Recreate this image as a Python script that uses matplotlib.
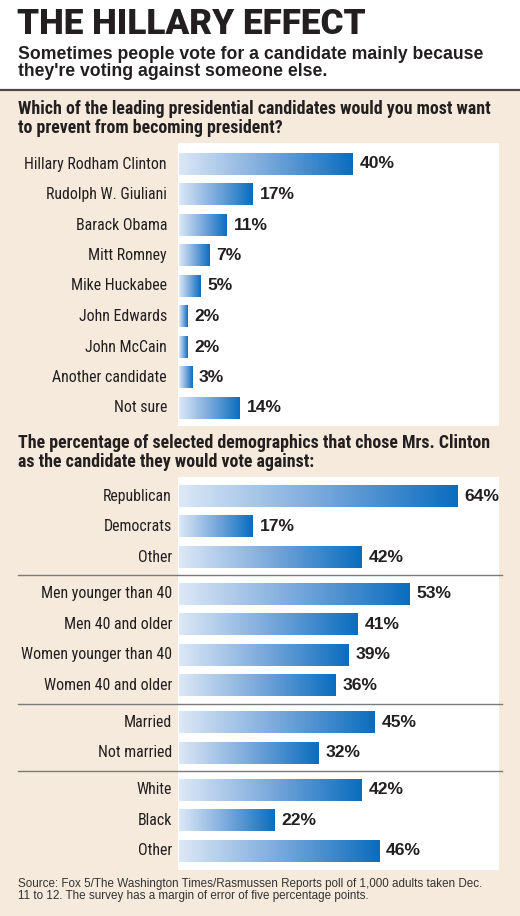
import matplotlib
matplotlib.use('Agg')
import matplotlib.pyplot as plt
import numpy as np
from matplotlib.colors import LinearSegmentedColormap
from matplotlib.transforms import blended_transform_factory
from matplotlib.patches import Rectangle
from matplotlib.lines import Line2D

# data
candidates = ['Hillary Rodham Clinton', 'Rudolph W. Giuliani', 'Barack Obama',
              'Mitt Romney', 'Mike Huckabee', 'John Edwards', 'John McCain',
              'Another candidate', 'Not sure']
candidate_pct = [40, 17, 11, 7, 5, 2, 2, 3, 14]

party = ['Republican', 'Democrats', 'Other']
party_pct = [64, 17, 42]
age_sex = ['Men younger than 40', 'Men 40 and older', 'Women younger than 40', 'Women 40 and older']
age_sex_pct = [53, 41, 39, 36]
marital = ['Married', 'Not married']
marital_pct = [45, 32]
race = ['White', 'Black', 'Other']
race_pct = [42, 22, 46]

title = 'THE HILLARY EFFECT'
subtitle = ("Sometimes people vote for a candidate mainly because\n"
            "they're voting against someone else.")
question1 = ("Which of the leading presidential candidates would you most want\n"
             "to prevent from becoming president?")
question2 = ("The percentage of selected demographics that chose Mrs. Clinton\n"
             "as the candidate they would vote against:")
source = ("Source: Fox 5/The Washington Times/Rasmussen Reports poll of 1,000 adults taken Dec.\n"
          "11 to 12. The survey has a margin of error of five percentage points.")

W, H = 520, 916
BEIGE = '#f5eadb'
TEXT = '#231f20'
blues = LinearSegmentedColormap.from_list('bar', ['#dce8f6', '#7aa9dc', '#0a6dbf'])
grad = np.linspace(0, 1, 256).reshape(1, -1)

fig = plt.figure(figsize=(W / 100, H / 100), dpi=100, facecolor=BEIGE)

# white header and rule
fig.patches.append(Rectangle((0, 1 - 89 / H), 1, 89 / H, transform=fig.transFigure,
                             facecolor='white', edgecolor='none', zorder=0))
fig.add_artist(Line2D([0, 1], [1 - 89.5 / H] * 2, transform=fig.transFigure,
                      color='#4a4a4a', lw=1.6))

fig.text(17 / W, 1 - 34 / H, title, fontfamily='Roboto', fontweight=900,
         fontsize=25.3, color=TEXT, va='baseline')
fig.text(18 / W, 1 - 76 / H, subtitle, fontfamily='Liberation Sans', fontweight='bold',
         fontsize=12.7, color=TEXT, va='baseline', linespacing=1.02)
fig.text(18 / W, 1 - 133 / H, question1, fontfamily='Roboto Condensed', fontweight='bold',
         fontsize=12.9, color=TEXT, va='baseline', linespacing=1.05)
fig.text(18 / W, 1 - 467 / H, question2, fontfamily='Roboto Condensed', fontweight='bold',
         fontsize=12.9, color=TEXT, va='baseline', linespacing=1.05)
fig.text(18 / W, 1 - 899 / H, source, fontfamily='Liberation Sans', fontsize=8.4,
         color='#333333', va='baseline', linespacing=1.05)

PX = 4.35  # pixels per percentage point
X0 = 179   # pixel where bars start
L, R = 178, 499


def panel(top, bottom, row0, pitch):
    ax = fig.add_axes([L / W, 1 - bottom / H, (R - L) / W, (bottom - top) / H])
    ax.set_facecolor('white')
    ax.set_xlim((L - X0) / PX, (R - X0) / PX)
    ax.set_ylim((bottom - row0) / pitch, (top - row0) / pitch)
    for s in ax.spines.values():
        s.set_visible(False)
    ax.set_xticks([])
    ax.set_yticks([])
    return ax


def draw_bars(ax, labels, values, positions, label_px):
    tr = blended_transform_factory(ax.transAxes, ax.transData)
    lx = (label_px - L) / (R - L)
    h = 0.71
    for lab, v, y in zip(labels, values, positions):
        ax.imshow(grad, cmap=blues, aspect='auto', interpolation='bilinear',
                  extent=[0, v, y + h / 2, y - h / 2], zorder=2)
        ax.text(lx, y, lab, transform=tr, ha='right', va='center', clip_on=False,
                fontfamily='Roboto Condensed', fontsize=11.4, color=TEXT)
        ax.annotate(f'{v}%', (v, y), xytext=(5.0, 0), textcoords='offset points',
                    ha='left', va='center', fontfamily='Liberation Sans',
                    fontweight='bold', fontsize=12.6, color=TEXT)
    ax.set_xlim((L - X0) / PX, (R - X0) / PX)


# panel 1
ax1 = panel(143, 426, 164, 30.5)
draw_bars(ax1, candidates, candidate_pct, np.arange(len(candidates)), 167)

# panel 2 with grouped rows
groups = [(party, party_pct), (age_sex, age_sex_pct), (marital, marital_pct), (race, race_pct)]
gap = 0.21
ax2 = panel(477, 870, 496, 30.5)
pos = 0
ends = []
for gi, (labs, vals) in enumerate(groups):
    ys = pos + np.arange(len(labs)) + gi * gap
    draw_bars(ax2, labs, vals, ys, 172)
    pos += len(labs)
    ends.append(ys[-1])

tr2 = blended_transform_factory(ax2.transAxes, ax2.transData)
for e in ends[:-1]:
    y = e + (1 + gap) / 2
    ax2.add_artist(Line2D([(18 - L) / (R - L), (502 - L) / (R - L)], [y, y], transform=tr2,
                          color='#7a7a7a', lw=1.0, clip_on=False, zorder=3))

fig.savefig('out.png', dpi=100, facecolor=BEIGE)
